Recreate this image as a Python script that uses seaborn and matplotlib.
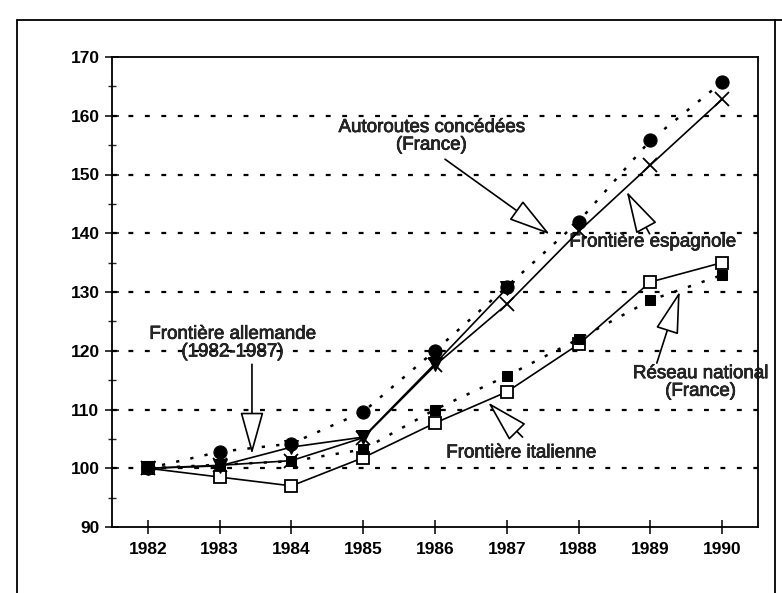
import matplotlib
matplotlib.use("Agg")
import matplotlib.pyplot as plt
import matplotlib.patheffects as pe
import seaborn as sns
from matplotlib.lines import Line2D
from matplotlib.ticker import MultipleLocator

# ---- data (index, 1982 = 100) ----
years = [1982, 1983, 1984, 1985, 1986, 1987, 1988, 1989, 1990]
autoroutes = [100, 102.8, 104.2, 109.6, 120.0, 130.9, 142.0, 155.8, 165.7]
reseau = [100, 100.6, 101.2, 103.2, 110.0, 115.7, 122.0, 128.6, 132.9]
espagnole = [100, 100.5, 101.3, 105.2, 117.5, 127.9, 140.3, 151.6, 162.8]
years_all = [1982, 1983, 1984, 1985, 1986, 1987]
allemande = [100, 100.4, 103.6, 105.3, 117.8, 130.6]
italienne = [100, 98.5, 97.0, 101.8, 107.7, 113.0, 121.1, 131.7, 135.0]

yticks = [90, 100, 110, 120, 130, 140, 150, 160, 170]

sns.set_style("ticks")
plt.rcParams['font.family'] = ['Liberation Sans', 'DejaVu Sans']

fig = plt.figure(figsize=(7.82, 5.93), dpi=100)
ax = fig.add_axes([112/782, 1-527/593, (758-112)/782, (527-57)/593])

# grid lines (dotted)
for v in yticks[1:-1]:
    ax.axhline(v, color='black', lw=1.6, linestyle=(0, (2.2, 5.2)), zorder=0.5)

k = dict(ax=ax, color='black', legend=False)
# dotted series
sns.lineplot(x=years, y=autoroutes, linestyle=(0, (1.3, 4.5)), lw=1.8,
             marker='o', markersize=9.5, markerfacecolor='black',
             markeredgecolor='black', zorder=3, **k)
sns.lineplot(x=years, y=reseau, linestyle=(0, (1.3, 4.5)), lw=1.8,
             marker='s', markersize=7.5, markerfacecolor='black',
             markeredgecolor='black', zorder=3, **k)
# solid series
sns.lineplot(x=years, y=italienne, lw=1.2, marker='s', markersize=8.5,
             markerfacecolor='white', markeredgecolor='black',
             markeredgewidth=1.3, zorder=2.5, **k)
sns.lineplot(x=years_all, y=allemande, lw=1.2, marker='v', markersize=10,
             markerfacecolor='black', markeredgecolor='black', zorder=4, **k)
sns.lineplot(x=years, y=espagnole, lw=1.2, marker='x', markersize=10,
             markeredgewidth=1.3, markeredgecolor='black', zorder=5, **k)

ax.set_xlim(1981.5, 1990.5)
ax.set_ylim(90, 170)
ax.set_xticks(years)
ax.set_yticks(yticks)
ax.yaxis.set_minor_locator(MultipleLocator(5))
ax.set_xlabel('')
ax.set_ylabel('')
for s in ax.spines.values():
    s.set_visible(True)
    s.set_color('black')
    s.set_linewidth(1.3)
ax.tick_params(axis='both', which='major', direction='inout', length=10,
               width=1.1, color='black', labelsize=12.5, labelcolor='black')
ax.tick_params(axis='y', which='minor', direction='inout', length=6, width=1.0)
ax.tick_params(axis='x', pad=6)
ax.tick_params(axis='y', pad=4)
for lab in ax.get_xticklabels() + ax.get_yticklabels():
    lab.set_fontweight('bold')

arrow = dict(arrowstyle='-|>,head_length=2.7,head_width=0.75', mutation_scale=10,
             facecolor='white', edgecolor='black', lw=1.2, shrinkA=0, shrinkB=0)
fs = 13.5
thick = [pe.withStroke(linewidth=0.5, foreground='black')]
# annotations: text + hollow-head arrows
ax.text(1985.95, 156.5, 'Autoroutes concédées\n(France)', ha='center', va='center',
        fontsize=fs, linespacing=1.05, path_effects=thick)
ax.annotate('', xy=(1987.6, 139.8), xytext=(1986.14, 152.6), arrowprops=arrow)

ax.text(1989.03, 138.5, 'Frontière espagnole', ha='center', va='center',
        fontsize=fs, path_effects=thick)
ax.annotate('', xy=(1988.67, 147.1), xytext=(1988.99, 139.9), arrowprops=arrow)

ax.text(1983.18, 121.3, 'Frontière allemande\n(1982-1987)', ha='center', va='center',
        fontsize=fs, linespacing=1.05, path_effects=thick)
ax.annotate('', xy=(1983.45, 102.4), xytext=(1983.45, 117.7), arrowprops=arrow)

ax.text(1987.2, 102.6, 'Frontière italienne', ha='center', va='center',
        fontsize=fs, path_effects=thick)
ax.annotate('', xy=(1986.74, 111.2), xytext=(1987.22, 105.3), arrowprops=arrow)

ax.text(1989.7, 114.6, 'Réseau national\n(France)', ha='center', va='center',
        fontsize=fs, linespacing=1.05, path_effects=thick)
ax.annotate('', xy=(1989.41, 130.1), xytext=(1989.09, 117.9), arrowprops=arrow)

# outer frame of the figure (scanned box)
W, H = 782, 593
fig.add_artist(Line2D([17/W, 17/W], [0, 1-20/H], transform=fig.transFigure,
                      color='black', lw=1.3))
fig.add_artist(Line2D([17/W, 1], [1-20/H, 1-20/H], transform=fig.transFigure,
                      color='black', lw=1.3))
fig.add_artist(Line2D([775/W, 775/W], [0, 1-20/H], transform=fig.transFigure,
                      color='black', lw=1.3))

fig.savefig('out.png', dpi=100, facecolor='white')
